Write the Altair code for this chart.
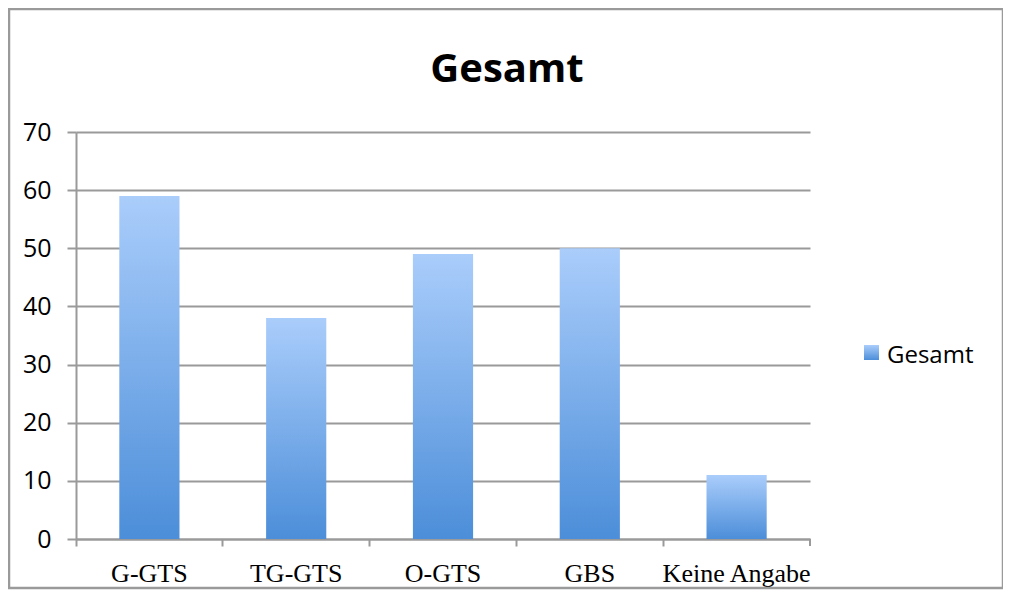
import altair as alt
import pandas as pd

categories = ["G-GTS", "TG-GTS", "O-GTS", "GBS", "Keine Angabe"]
values = [59, 38, 49, 50, 11]
series_name = "Gesamt"
title_text = "Gesamt"
y_ticks = [0, 10, 20, 30, 40, 50, 60, 70]

df = pd.DataFrame({"category": categories, "value": values})

W, H = 734, 407
GRID = "#9A9A9A"
SANS = "Open Sans"
SERIF = "Liberation Serif"

grad = alt.LinearGradient(
    gradient="linear",
    stops=[alt.GradientStop(color="#AACDFB", offset=0),
           alt.GradientStop(color="#4C8ED9", offset=1)],
    x1=0, x2=0, y1=0, y2=1,
)

one = alt.Data(values=[{"k": 1}])

border = alt.Chart(one).mark_rect(fill="transparent", stroke="#9A9A9A", strokeWidth=2.5).encode(
    x=alt.value(-67), x2=alt.value(927), y=alt.value(-123), y2=alt.value(456)
)

bars = alt.Chart(df).mark_bar(color=grad, width=alt.RelativeBandSize(0.41)).encode(
    x=alt.X("category:N", sort=categories, title=None,
            scale=alt.Scale(paddingInner=0, paddingOuter=0),
            axis=alt.Axis(labelAngle=0, labelFont=SERIF, labelFontSize=26,
                          labelColor="black", labelPadding=14,
                          bandPosition=0, tickSize=7, tickColor=GRID,
                          tickWidth=2, domainColor=GRID, domainWidth=2,
                          grid=False)),
    y=alt.Y("value:Q", title=None,
            scale=alt.Scale(domain=[0, 70], nice=False),
            axis=alt.Axis(values=y_ticks, labelFont=SANS, labelFontSize=25,
                          labelColor="black", labelPadding=16, tickSize=9,
                          tickColor=GRID, tickWidth=2, domainColor=GRID,
                          domainWidth=2, gridColor=GRID, gridWidth=2)),
)

end_tick = alt.Chart(one).mark_rule(color=GRID, strokeWidth=2).encode(
    x=alt.value(W), y=alt.value(H), y2=alt.value(H + 7)
)

title = alt.Chart(one).mark_text(
    text=title_text, font=SANS, fontSize=40, fontWeight="bold",
    color="black", align="center", baseline="alphabetic"
).encode(x=alt.value(431), y=alt.value(-50))

legend_box = alt.Chart(one).mark_rect(color=grad).encode(
    x=alt.value(788), x2=alt.value(803), y=alt.value(213), y2=alt.value(228)
)

legend_text = alt.Chart(one).mark_text(
    text=series_name, font=SANS, fontSize=24, color="black",
    align="left", baseline="alphabetic"
).encode(x=alt.value(811), y=alt.value(231))

chart = alt.layer(border, bars, end_tick, title, legend_box, legend_text).properties(
    width=W, height=H, autosize="none",
    padding={"left": 68, "top": 124, "right": 193, "bottom": 57},
    background="white",
).configure_view(stroke=None)

chart.save("out.html", embed_options={"renderer": "svg", "actions": False})
